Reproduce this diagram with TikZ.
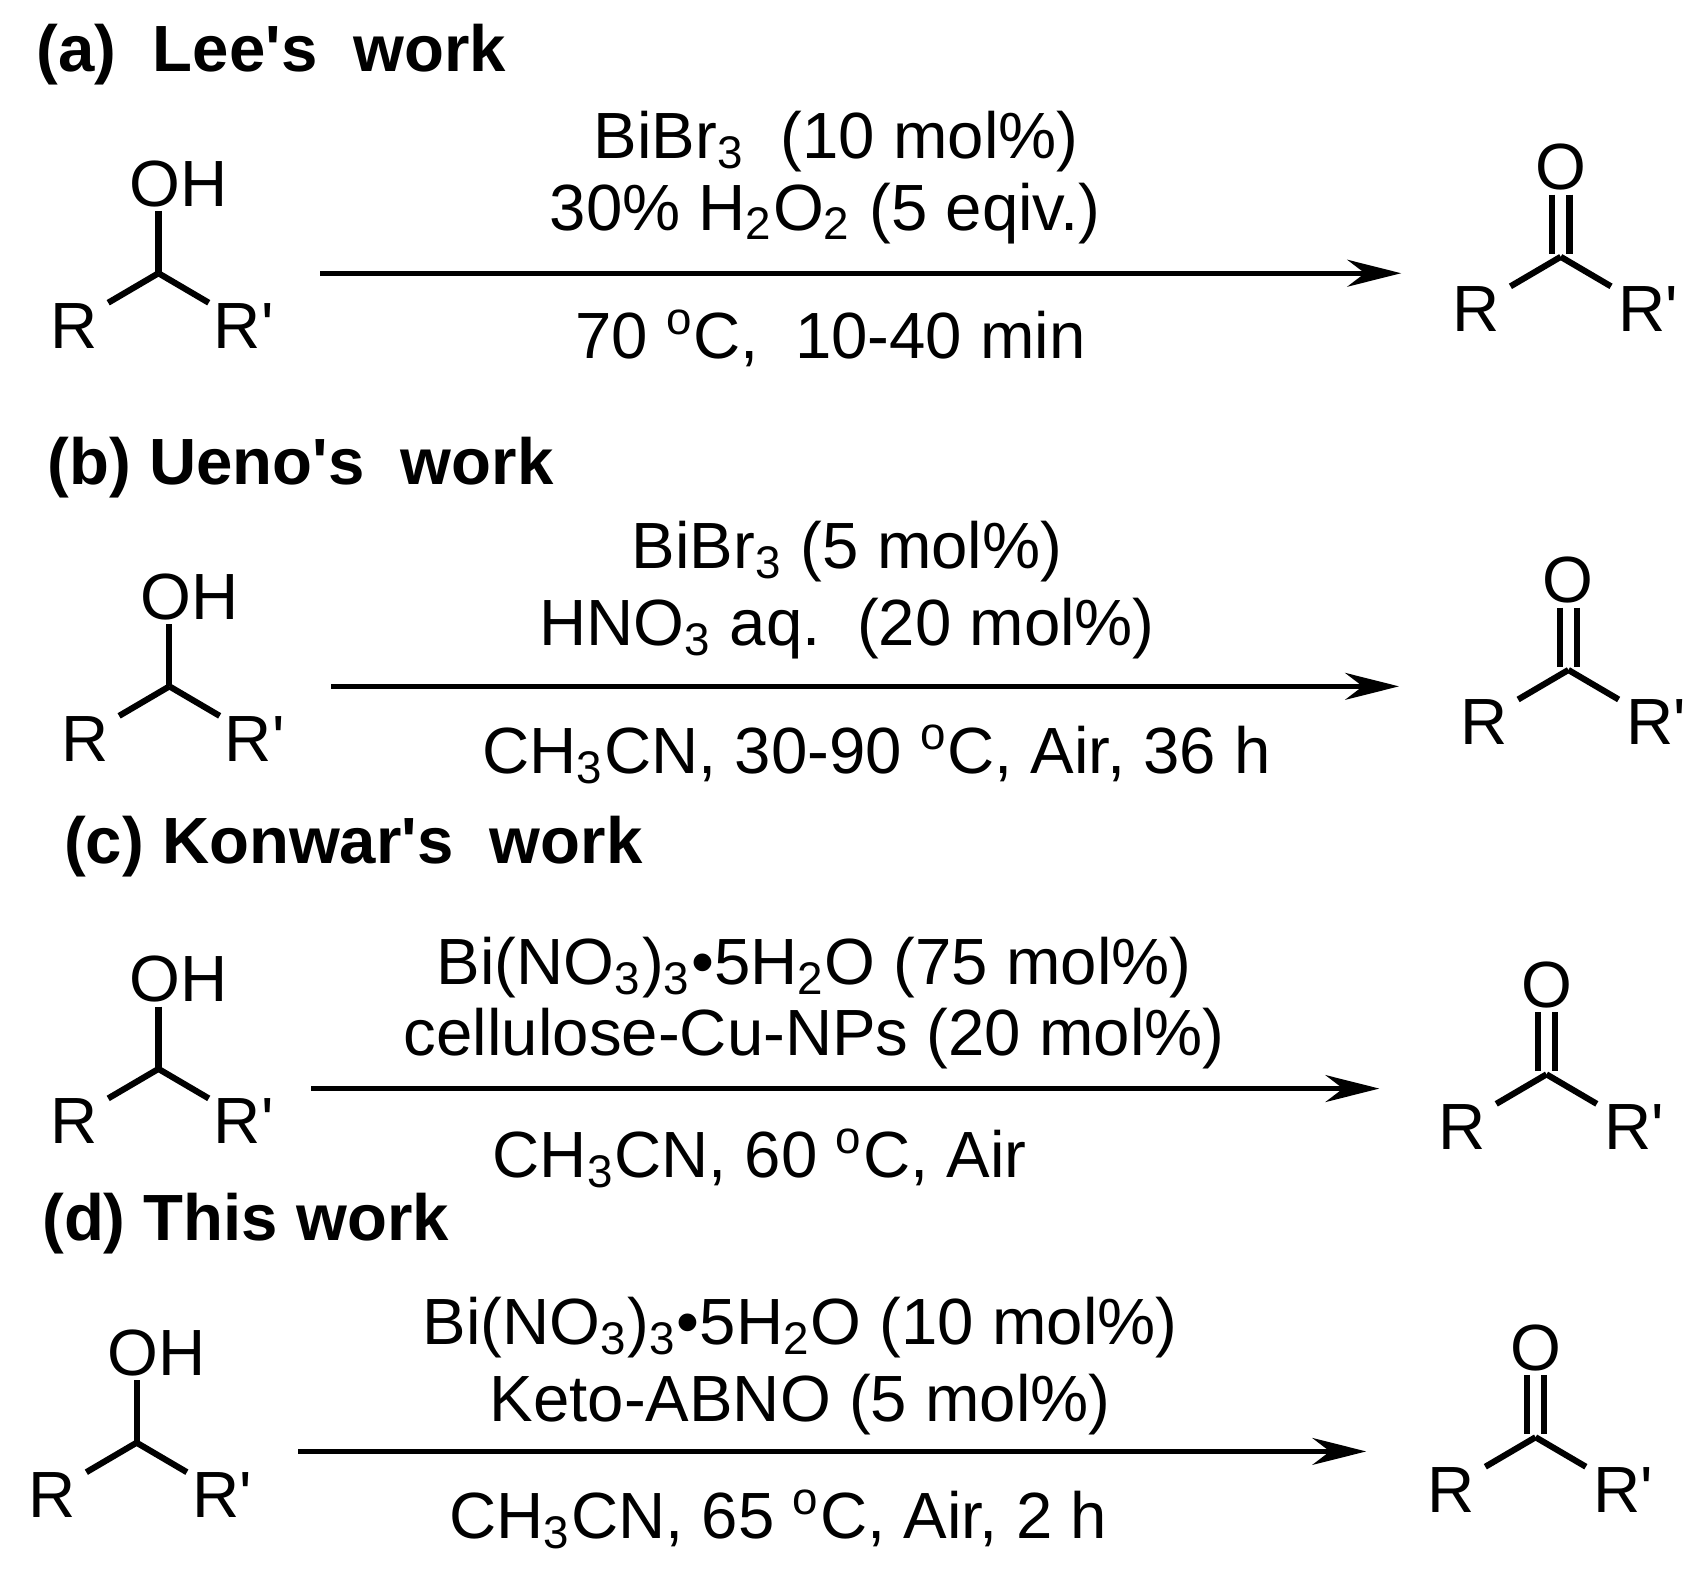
\documentclass[tikz,border=0pt]{standalone}
\usepackage{fontspec}
\setmainfont{Liberation Sans}
\usetikzlibrary{arrows.meta}
\newcommand{\sub}[1]{\textsubscript{#1}}
\newcommand{\degr}{\textsuperscript{o}}
\newcommand{\ap}{\textquotesingle}
\newcommand{\alc}[3]{%
 \coordinate (#1c) at (#2,#3);
 \node[txt,anchor=west] (#1oh) at (#2-27,#3-82) {OH};
 \node[txt] (#1r) at (#2-77,#3+48) {R};
 \node[txt] (#1rp) at (#2+78,#3+48) {R\ap};
 \draw[bond] (#2,#3-57) -- (#1c);
 \draw[bond] (#1c) -- ++(-46,27);
 \draw[bond] (#1c) -- ++(46,27);}
\newcommand{\ket}[3]{%
 \coordinate (#1c) at (#2,#3);
 \node[txt] (#1o) at (#2,#3-82) {O};
 \node[txt] (#1r) at (#2-77,#3+48) {R};
 \node[txt] (#1rp) at (#2+80,#3+48) {R\ap};
 \draw[bond] (#2-8,#3-57) -- (#2-8,#3-3);
 \draw[bond] (#2+8,#3-57) -- (#2+8,#3-3);
 \draw[bond] (#1c) -- ++(-46,27);
 \draw[bond] (#1c) -- ++(46,27);}
\begin{document}
\begin{tikzpicture}[x=0.01cm,y=-0.01cm,
 txt/.style={font=\fontsize{17}{19}\selectfont,inner sep=0pt},
 ttl/.style={font=\fontsize{17}{19}\selectfont\bfseries,inner sep=0pt,anchor=west},
 bond/.style={line width=1.6pt},
 arr/.style={line width=1.3pt,-{Stealth[length=14pt,width=7pt]}}]
\useasboundingbox (0,0) rectangle (1560,1440);
% (a)
\node[ttl] (ta) at (33,50) {(a)\ \ Lee\ap s\ \ work};
\alc{a}{145}{250}
\coordinate (a1) at (293,250); \coordinate (a2) at (1282,250);
\draw[arr] (a1) -- (a2);
\node[txt] (ac1) at (765,130) {BiBr\sub{3}\ \ (10 mol\%)};
\node[txt] (ac2) at (755,195) {30\% H\sub{2}O\sub{2} (5 eqiv.)};
\node[txt] (ac3) at (760,310) {70 \degr C,\ \ 10-40 min};
\ket{ap}{1428}{235}
% (b)
\node[ttl] (tb) at (43,428) {(b) Ueno\ap s\ \ work};
\alc{b}{155}{628}
\coordinate (b1) at (303,628); \coordinate (b2) at (1280,628);
\draw[arr] (b1) -- (b2);
\node[txt] (bc1) at (775,505) {BiBr\sub{3} (5 mol\%)};
\node[txt] (bc2) at (775,575) {HNO\sub{3} aq.\ \ (20 mol\%)};
\node[txt] (bc3) at (802,690) {CH\sub{3}CN, 30-90 \degr C, Air, 36 h};
\ket{bp}{1435}{613}
% (c)
\node[ttl] (tc) at (58,775) {(c) Konwar\ap s\ \ work};
\alc{c}{145}{978}
\coordinate (c1) at (285,996); \coordinate (c2) at (1262,996);
\draw[arr] (c1) -- (c2);
\node[txt] (cc1) at (745,885) {Bi(NO\sub{3})\sub{3}•5H\sub{2}O (75 mol\%)};
\node[txt] (cc2) at (745,950) {cellulose-Cu-NPs (20 mol\%)};
\node[txt] (cc3) at (695,1060) {CH\sub{3}CN, 60 \degr C, Air};
\ket{cp}{1415}{983}
% (d)
\node[ttl] (td) at (38,1120) {(d) This work};
\alc{d}{125}{1320}
\coordinate (d1) at (273,1328); \coordinate (d2) at (1250,1328);
\draw[arr] (d1) -- (d2);
\node[txt] (dc1) at (732,1215) {Bi(NO\sub{3})\sub{3}•5H\sub{2}O (10 mol\%)};
\node[txt] (dc2) at (732,1285) {Keto-ABNO (5 mol\%)};
\node[txt] (dc3) at (712,1390) {CH\sub{3}CN, 65 \degr C, Air, 2 h};
\ket{dp}{1405}{1315}
\end{tikzpicture}
\end{document}
